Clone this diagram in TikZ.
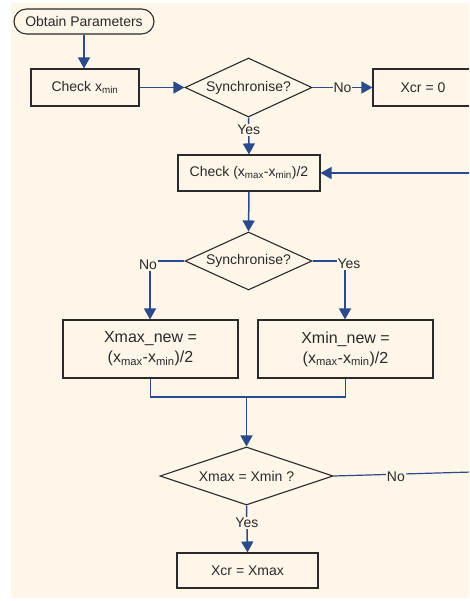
\documentclass[tikz,border=0pt]{standalone}
\usepackage{fontspec}
\setmainfont{Liberation Sans}
\usetikzlibrary{shapes.geometric,arrows.meta}
\definecolor{cream}{HTML}{FEF6E8}
\definecolor{flowblue}{HTML}{2B4A8B}
\definecolor{boxline}{HTML}{2A2A2A}
\newcommand{\mysb}[1]{\textsubscript{#1}}
\begin{document}
\begin{tikzpicture}[x=1pt,y=-1pt,
  every node/.style={text=boxline,font=\fontsize{14}{17}\selectfont},
  procbox/.style={draw=boxline,line width=1.1pt,fill=cream,rectangle,inner sep=0pt},
  bigbox/.style={procbox,font=\fontsize{16}{20}\selectfont,align=center},
  decide/.style={draw=boxline,line width=1.1pt,fill=cream,diamond,inner sep=0pt},
  startbox/.style={procbox,rounded corners=12.5pt},
  conn/.style={draw=flowblue,line width=1.5pt},
  thinconn/.style={draw=flowblue,line width=1.2pt},
  arr/.style={conn,-{Triangle[length=11pt,width=12pt]}},
  lbl/.style={fill=cream,inner sep=1pt,text=boxline}]
\useasboundingbox (0,0) rectangle (469,601);
\clip (0,0) rectangle (469,601);
\fill[cream] (11,3) rectangle (470,598);

\node[startbox,minimum width=140pt,minimum height=25pt] (obtain) at (84,21.5) {Obtain Parameters};
\node[procbox,minimum width=108pt,minimum height=37pt] (chk1) at (85,87.5) {Check x\mysb{min}};
\node[decide,aspect=2.15,minimum width=127pt,minimum height=59pt] (d1) at (248.5,87.5) {Synchronise?};
\node[procbox,minimum width=108pt,minimum height=37pt] (xcr0) at (427,87.5) {};
\node at (423,87.5) {Xcr = 0};
\node[procbox,minimum width=142pt,minimum height=36pt] (chk2) at (249,173) {Check (x\mysb{max}-x\mysb{min})/2};
\node[decide,aspect=2.19,minimum width=127pt,minimum height=58pt] (d2) at (248.5,261) {Synchronise?};
\node[bigbox,minimum width=175pt,minimum height=58pt] (xmx) at (150.5,349) {Xmax\_new =\\(x\mysb{max}-x\mysb{min})/2};
\node[bigbox,minimum width=175pt,minimum height=58pt] (xmn) at (345.5,349) {Xmin\_new =\\(x\mysb{max}-x\mysb{min})/2};
\node[decide,aspect=2.98,minimum width=173pt,minimum height=58pt] (d3) at (246.5,476) {Xmax = Xmin ?};
\node[procbox,minimum width=141pt,minimum height=35pt] (xcrmax) at (247.5,570.5) {Xcr = Xmax};

\coordinate (loopin) at (472,173);
\coordinate (loopout) at (472,472);
\coordinate (merge) at (246.5,397);
\coordinate (noL) at (150,261);
\coordinate (yesR) at (345,261);

\draw[arr] (obtain.south) -- (obtain.south |- chk1.north);
\draw[arr] (chk1.east) -- (d1.west);
\draw[arr] (d1.east) -- node[lbl]{No} (xcr0.west);
\draw[arr] (d1.south) -- node[lbl,pos=0.33]{Yes} (chk2.north);
\draw[arr] (loopin) -- (chk2.east);
\draw[arr] (chk2.south) -- (d2.north);
\draw[thinconn] (d2.west) -- (noL);
\draw[arr] (noL) -- (noL |- xmx.north);
\node[lbl] at (148,265) {No};
\draw[thinconn] (d2.east) -- (yesR);
\draw[arr] (yesR) -- (yesR |- xmn.north);
\node[lbl] at (349,264) {Yes};
\draw[thinconn] (xmx.south) |- (merge) -| (xmn.south);
\draw[arr] (merge) -- (d3.north);
\draw[thinconn] (d3.east) -- node[lbl,pos=0.45,yshift=-3pt]{No} (loopout);
\draw[arr] (d3.south) -- node[lbl,pos=0.37]{Yes} (xcrmax.north);
\end{tikzpicture}
\end{document}
